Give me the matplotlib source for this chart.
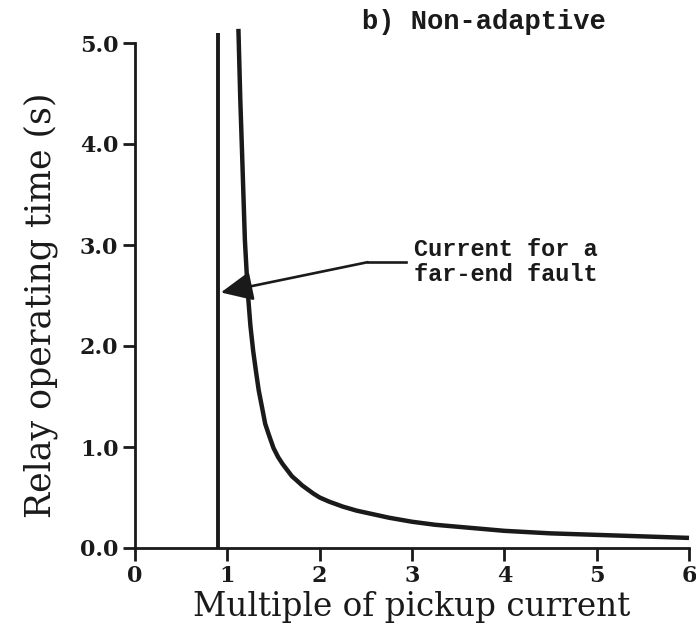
import matplotlib
matplotlib.use("Agg")
import matplotlib.pyplot as plt

# Inverse-time relay characteristic (multiple of pickup vs operating time)
multiple = [1.12, 1.14, 1.16, 1.19, 1.22, 1.25, 1.28, 1.31, 1.34, 1.37, 1.41,
            1.45, 1.50, 1.55, 1.60, 1.65, 1.70, 1.75, 1.81, 1.87, 1.93, 2.0,
            2.1, 2.25, 2.4, 2.5, 2.75, 3.0, 3.25, 3.5, 4.0, 4.5, 5.0, 5.5, 6.0]
op_time = [5.14, 4.45, 3.90, 3.05, 2.55, 2.20, 1.95, 1.75, 1.56, 1.42, 1.23,
           1.12, 0.99, 0.90, 0.83, 0.77, 0.71, 0.67, 0.62, 0.58, 0.54, 0.50,
           0.46, 0.41, 0.37, 0.35, 0.30, 0.26, 0.23, 0.21, 0.17, 0.145, 0.13,
           0.115, 0.10]

# Current seen for a fault at the far end of the line
far_end_multiple = 0.9
far_end_top = 5.1

x_ticks = [0, 1, 2, 3, 4, 5, 6]
x_tick_labels = ["0", "1", "2", "3", "4", "5", "6"]
y_ticks = [0.0, 1.0, 2.0, 3.0, 4.0, 5.0]
y_tick_labels = ["0.0", "1.0", "2.0", "3.0", "4.0", "5.0"]

W, H = 696, 631
fig = plt.figure(figsize=(W / 100, H / 100), dpi=100)
ax = fig.add_axes([135 / W, 1 - 548 / H, (689 - 135) / W, (548 - 43) / H])

ax.plot(multiple, op_time, color="#1a1a1a", lw=3.2, clip_on=False,
        solid_capstyle="butt", solid_joinstyle="round")
ax.plot([far_end_multiple, far_end_multiple], [0, far_end_top],
        color="#1a1a1a", lw=2.8, clip_on=False, solid_capstyle="butt")

ax.set_xlim(0, 6)
ax.set_ylim(0, 5)
ax.set_xticks(x_ticks)
ax.set_xticklabels(x_tick_labels)
ax.set_yticks(y_ticks)
ax.set_yticklabels(y_tick_labels)

for side in ("top", "right"):
    ax.spines[side].set_visible(False)
for side in ("left", "bottom"):
    ax.spines[side].set_linewidth(2.0)
    ax.spines[side].set_color("#1a1a1a")

ax.tick_params(direction="out", length=9, width=2.0, color="#1a1a1a",
               pad=3)
for lab in ax.get_xticklabels() + ax.get_yticklabels():
    lab.set_fontfamily("DejaVu Serif")
    lab.set_fontweight("bold")
    lab.set_fontsize(16)
    lab.set_color("#1a1a1a")

ax.set_xlabel("Multiple of pickup current", fontfamily="DejaVu Serif",
              fontsize=23.5, color="#1a1a1a", labelpad=3)
ax.set_ylabel("Relay operating time (s)", fontfamily="DejaVu Serif",
              fontsize=25, color="#1a1a1a", labelpad=16)
ax.yaxis.label.set_y(0.48)

# Callout for the far-end fault current
ax.plot([2.52, 2.93], [2.83, 2.83], color="#1a1a1a", lw=1.9)
ax.annotate("", xy=(0.93, 2.53), xytext=(2.52, 2.83),
            arrowprops=dict(arrowstyle="-|>,head_length=1.3,head_width=0.6",
                            mutation_scale=15, lw=1.9, color="#1a1a1a",
                            shrinkA=0, shrinkB=0))
ax.text(3.02, 2.83, "Current for a\nfar-end fault", fontfamily="Liberation Mono",
        fontweight="bold", fontsize=17, ha="left", va="center",
        linespacing=1.12, color="#1a1a1a")

fig.text(362 / W, 1 - 22 / H, "b) Non-adaptive", fontfamily="Liberation Mono",
         fontweight="bold", fontsize=19.5, ha="left", va="center",
         color="#1a1a1a")

fig.savefig("out.png", dpi=100)
